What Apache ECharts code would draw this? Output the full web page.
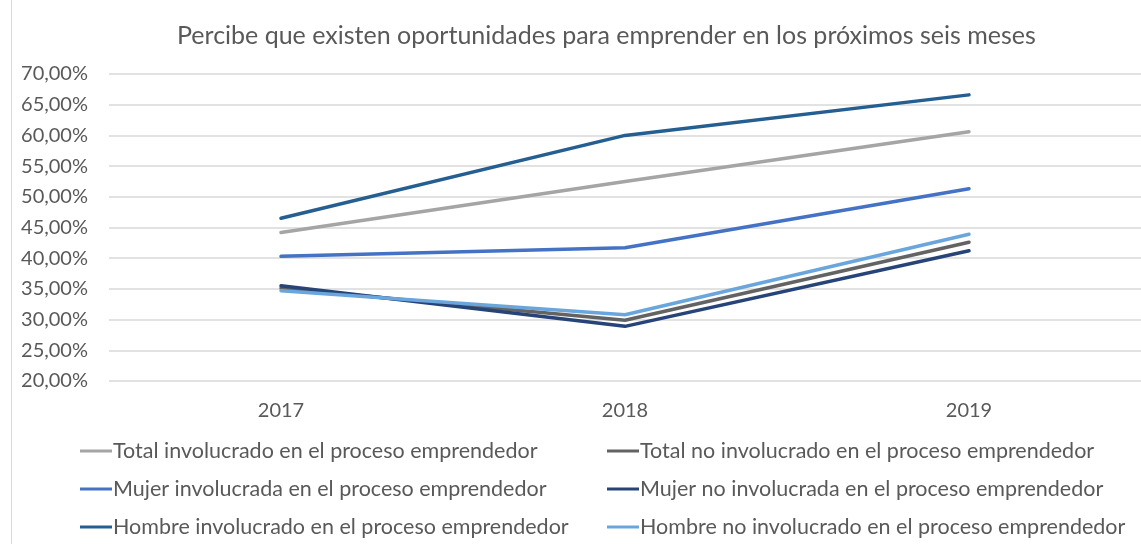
<!DOCTYPE html>
<html>
<head>
<meta charset="utf-8">
<script src="https://cdn.jsdelivr.net/npm/echarts@6/dist/echarts.min.js"></script>
<style>
  html, body { margin: 0; padding: 0; background: #fff; }
  #chart { width: 1141px; height: 544px; }
</style>
</head>
<body>
<div id="chart"></div>
<script>
// datos (porcentajes)
const years = ['2017', '2018', '2019'];
const totalInv = [44.2, 52.5, 60.6];
const totalNoInv = [35.1, 29.9, 42.6];
const mujerInv = [40.3, 41.7, 51.3];
const mujerNoInv = [35.5, 28.9, 41.2];
const hombreInv = [46.5, 60.0, 66.6];
const hombreNoInv = [34.7, 30.8, 43.9];

const names = [
    'Total involucrado en el proceso emprendedor',
    'Total no involucrado en el proceso emprendedor',
    'Mujer involucrada en el proceso emprendedor',
    'Mujer no involucrada en el proceso emprendedor',
    'Hombre involucrado en el proceso emprendedor',
    'Hombre no involucrado en el proceso emprendedor'
];
const values = [totalInv, totalNoInv, mujerInv, mujerNoInv, hombreInv, hombreNoInv];
const colors = ['#A5A5A5', '#636363', '#4472C4', '#264478', '#255E91', '#6AA6DC'];

const font = 'Lato, "Noto Sans", sans-serif';
const txt = '#595959';

let myChart = echarts.init(document.getElementById('chart'));

function legendBox(left, items) {
    return {
        orient: 'vertical',
        left: left,
        top: 440,
        height: 110,
        padding: 0,
        icon: 'rect',
        itemWidth: 32,
        itemHeight: 3,
        itemGap: 16,
        data: items,
        textStyle: {
            fontFamily: font,
            fontSize: 21.5,
            color: txt,
            lineHeight: 22,
            padding: [0, 0, 0, -4]
        }
    };
}

let option = {
    animation: false,
    backgroundColor: '#fff',
    title: {
        text: 'Percibe que existen oportunidades para emprender en los próximos seis meses',
        left: 172,
        top: 18,
        textStyle: {
            fontFamily: font,
            fontSize: 25,
            fontWeight: 'normal',
            color: txt
        }
    },
    legend: [
        legendBox(80, [names[0], names[2], names[4]]),
        legendBox(607, [names[1], names[3], names[5]])
    ],
    grid: {
        left: 109,
        right: -43,
        top: 74,
        bottom: 163
    },
    xAxis: {
        type: 'category',
        data: years,
        axisLine: { show: false },
        axisTick: { show: false },
        axisLabel: {
            fontFamily: font,
            fontSize: 20,
            color: txt,
            margin: 20
        }
    },
    yAxis: {
        type: 'value',
        min: 20,
        max: 70,
        interval: 5,
        axisLine: { show: false },
        axisTick: { show: false },
        splitLine: { lineStyle: { color: '#D9D9D9', width: 1.5 } },
        axisLabel: {
            fontFamily: font,
            fontSize: 20,
            color: txt,
            margin: 21,
            formatter: function (v) {
                return v.toFixed(2).replace('.', ',') + '%';
            }
        }
    },
    series: names.map(function (n, i) {
        return {
            name: n,
            type: 'line',
            data: values[i],
            color: colors[i],
            showSymbol: false,
            lineStyle: { width: 3.5, cap: 'round' }
        };
    }),
    graphic: [{
        type: 'line',
        shape: { x1: 11.5, y1: 0, x2: 11.5, y2: 544 },
        style: { stroke: '#D9D9D9', lineWidth: 1 }
    }]
};

myChart.setOption(option);
window.addEventListener('resize', () => {
    myChart.resize();
});
</script>
</body>
</html>
